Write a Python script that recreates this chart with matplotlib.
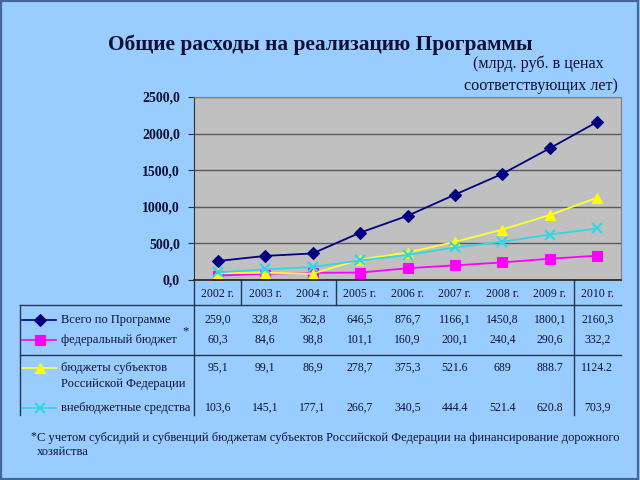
import matplotlib.pyplot as plt
import matplotlib.transforms as mtransforms
from matplotlib.lines import Line2D
from matplotlib.patches import Rectangle

# Data
years = ['2002 г.', '2003 г.', '2004 г.', '2005 г.', '2006 г.',
         '2007 г.', '2008 г.', '2009 г.', '2010 г.']
total = [259.0, 328.8, 362.8, 646.5, 876.7, 1166.1, 1450.8, 1800.1, 2160.3]
federal = [60.3, 84.6, 98.8, 101.1, 160.9, 200.1, 240.4, 290.6, 332.2]
regional = [95.1, 99.1, 86.9, 278.7, 375.3, 521.6, 689, 888.7, 1124.2]
offbudget = [103.6, 145.1, 177.1, 266.7, 340.5, 444.4, 521.4, 620.8, 703.9]

# table cell texts as printed in the source
total_txt = ['259,0', '328,8', '362,8', '646,5', '876,7', '1166,1', '1450,8', '1800,1', '2160,3']
federal_txt = ['60,3', '84,6', '98,8', '101,1', '160,9', '200,1', '240,4', '290,6', '332,2']
regional_txt = ['95,1', '99,1', '86,9', '278,7', '375,3', '521.6', '689', '888.7', '1124.2']
offbudget_txt = ['103,6', '145,1', '177,1', '266,7', '340,5', '444.4', '521.4', '620.8', '703,9']

labels = ['Всего по Программе', 'федеральный бюджет', 'бюджеты субъектов',
          'внебюджетные средства']
yticks = [0, 500, 1000, 1500, 2000, 2500]
ytick_labels = ['0,0', '500,0', '1000,0', '1500,0', '2000,0', '2500,0']

plt.rcParams['font.family'] = ['Liberation Serif', 'DejaVu Serif']
txt_col = '#101035'
line_col = '#2a3550'

W, H = 640, 480
fig = plt.figure(figsize=(6.4, 4.8), dpi=100, facecolor='#99CCFF')


def fy(py):
    return 1 - py / H


def fx(px):
    return px / W


# figure border
fig.patches.append(Rectangle((0.002, 0.003), 0.995, 0.994, transform=fig.transFigure,
                             fill=False, edgecolor='#4466A0', linewidth=1.6))

ax = fig.add_axes([194 / W, 1 - 280 / H, 427 / W, 183 / H])
ax.set_facecolor('#C0C0C0')
x = list(range(len(years)))

styles = [
    (total, '#000080', 'D', 6, '#000080'),
    (federal, '#FF00FF', 's', 7, '#FF00FF'),
    (regional, '#FFFF33', '^', 7.5, '#FFFF00'),
    (offbudget, '#33D6E6', 'x', 7, '#33D6E6'),
]
for vals, col, mk, ms, mc in styles:
    ax.plot(x, vals, color=col, marker=mk, markersize=ms, markerfacecolor=mc,
            markeredgecolor=mc, markeredgewidth=1.6 if mk == 'x' else 0.8,
            linewidth=1.3)

ax.set_xlim(-0.5, len(years) - 0.5)
ax.set_ylim(0, 2500)
ax.set_yticks(yticks)
ax.set_yticklabels(ytick_labels, fontsize=10, fontweight='bold', color=txt_col)
ax.set_xticks([])
ax.yaxis.grid(True, color='#5a5a5a', linewidth=1)
ax.set_axisbelow(True)
ax.tick_params(axis='y', direction='out', length=4, color='#333333', pad=6)
for side in ['top', 'right']:
    ax.spines[side].set_color('#808080')
ax.spines['left'].set_color('#333333')
ax.spines['bottom'].set_color('#222222')
ax.spines['bottom'].set_linewidth(1.2)

# title
fig.text(fx(320), fy(45), 'Общие расходы на реализацию Программы', ha='center', va='center',
         fontsize=15.4, fontweight='bold', color=txt_col)
fig.text(fx(604), fy(64), '(млрд. руб. в ценах', ha='right', va='center',
         fontsize=11.6, color=txt_col)
fig.text(fx(618), fy(86), 'соответствующих лет)', ha='right', va='center',
         fontsize=11.6, color=txt_col)

# data table below the chart
tr = mtransforms.blended_transform_factory(ax.transData, fig.transFigure)
for i, yr in enumerate(years):
    ax.text(i, fy(294), yr, transform=tr, ha='center', va='center',
            fontsize=8.5, color=txt_col, clip_on=False)

rows = [(total_txt, 320), (federal_txt, 340), (regional_txt, 368), (offbudget_txt, 408)]
for cells, py in rows:
    for i, c in enumerate(cells):
        ax.text(i, fy(py), c, transform=tr, ha='center', va='center',
                fontsize=8.5, color=txt_col, clip_on=False)

# legend keys + labels in first column
key_rows = [320, 340, 368, 408]
for (vals, col, mk, ms, mc), py, lab in zip(styles, key_rows, labels):
    fig.add_artist(Line2D([fx(22), fx(56)], [fy(py), fy(py)], transform=fig.transFigure,
                          color=col, linewidth=1.2, marker=None))
    fig.add_artist(Line2D([fx(40)], [fy(py)], transform=fig.transFigure, color=col,
                          marker=mk, markersize=ms, markerfacecolor=mc, markeredgecolor=mc,
                          markeredgewidth=1.6 if mk == 'x' else 0.8))
    fig.text(fx(61), fy(py), lab, ha='left', va='center', fontsize=9, color=txt_col)
fig.text(fx(61), fy(384), 'Российской Федерации', ha='left', va='center',
         fontsize=9, color=txt_col)
fig.text(fx(182), fy(331), '*', ha='left', va='center', fontsize=9, color=txt_col)

# table grid lines
grid_lines = [
    ([194, 194], [280, 415]),
    ([20, 20], [305, 415]),
    ([20, 621], [305, 305]),
    ([20, 621], [355, 355]),
]
for xs, ys in grid_lines:
    fig.add_artist(Line2D([fx(v) for v in xs], [fy(v) for v in ys],
                          transform=fig.transFigure, color=line_col, linewidth=1))
for xv, y0, y1 in [(0.5, 280, 305), (2.5, 280, 305), (7.5, 280, 415)]:
    ax.add_artist(Line2D([xv, xv], [fy(y0), fy(y1)], transform=tr, color=line_col,
                         linewidth=1, clip_on=False))

# footnote
fig.text(fx(30), fy(436), '*', ha='left', va='center', fontsize=8.5, color=txt_col)
fig.text(fx(37), fy(438), 'С учетом субсидий и субвенций бюджетам субъектов Российской '
         'Федерации на финансирование дорожного', ha='left', va='center',
         fontsize=9, color=txt_col)
fig.text(fx(37), fy(452), 'хозяйства', ha='left', va='center', fontsize=9, color=txt_col)

fig.savefig('out.png', dpi=100, facecolor=fig.get_facecolor())
